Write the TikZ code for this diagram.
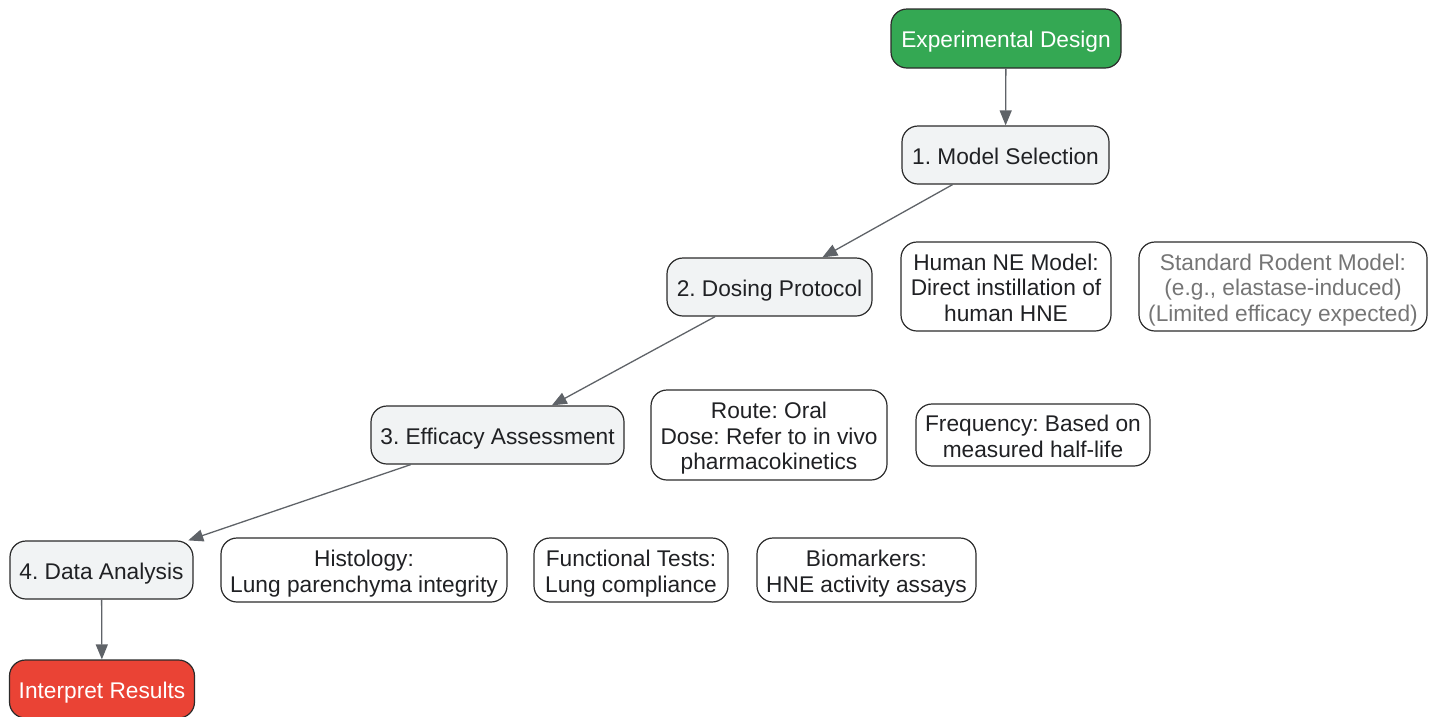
\documentclass[tikz,border=0pt]{standalone}
\usepackage{fontspec}
\setmainfont{Liberation Sans}
\usetikzlibrary{arrows.meta}
\definecolor{grn}{HTML}{34A853}
\definecolor{rd}{HTML}{EA4335}
\definecolor{lg}{HTML}{F1F3F4}
\definecolor{bd}{HTML}{2B2B2B}
\definecolor{ar}{HTML}{5F6368}
\definecolor{gt}{HTML}{757575}
\definecolor{tx}{HTML}{202124}
\frenchspacing
\begin{document}
\begin{tikzpicture}[x=1pt,y=-1pt,
  box/.style={draw=bd, line width=1.2pt, rounded corners=16pt, align=center,
    inner sep=0pt, text=tx, font=\fontsize{22.7}{25.5}\selectfont\frenchspacing,
    text height=22.1pt, text depth=3.4pt},
  twolines/.style={text height=47.6pt},
  threelines/.style={text height=73.1pt},
  stepbox/.style={box, fill=lg},
  conn/.style={draw=ar, line width=1.3pt, -{Triangle[length=15pt,width=12pt]}}]
\useasboundingbox (0,0) rectangle (1436,716);
\node[box, fill=grn, text=white, minimum width=230pt, minimum height=59pt] (ed) at (1006,38.5) {Experimental Design};
\node[stepbox, minimum width=207pt, minimum height=58pt] (ms) at (1005.5,155) {1. Model Selection};
\node[stepbox, minimum width=205pt, minimum height=58pt] (dp) at (769.5,287) {2. Dosing Protocol};
\node[box, threelines, minimum width=210pt, minimum height=89pt] (hne) at (1006,286.5) {Human NE Model:\\Direct instillation of\\human HNE};
\node[box, threelines, text=gt, minimum width=288pt, minimum height=89pt] (rod) at (1283,286.5) {Standard Rodent Model:\\(e.g., elastase-induced)\\(Limited efficacy expected)};
\node[stepbox, minimum width=253pt, minimum height=58pt] (ea) at (497.5,435) {3. Efficacy Assessment};
\node[box, threelines, minimum width=236pt, minimum height=90pt] (rt) at (769,435) {Route: Oral\\Dose: Refer to in vivo\\pharmacokinetics};
\node[box, twolines, minimum width=234pt, minimum height=62pt] (fq) at (1033,435) {Frequency: Based on\\measured half-life};
\node[stepbox, minimum width=183pt, minimum height=58pt] (da) at (101.5,570) {4. Data Analysis};
\node[box, twolines, minimum width=286pt, minimum height=64pt] (hi) at (364,570) {Histology:\\Lung parenchyma integrity};
\node[box, twolines, minimum width=194pt, minimum height=64pt] (ft) at (631,570) {Functional Tests:\\Lung compliance};
\node[box, twolines, minimum width=219pt, minimum height=64pt] (bm) at (866.5,570) {Biomarkers:\\HNE activity assays};
\node[box, fill=rd, text=white, minimum width=185pt, minimum height=58pt] (ir) at (102,689) {Interpret Results};
\draw[conn] (ed) -- (ms);
\draw[conn] (ms) -- (dp);
\draw[conn] (dp) -- (ea);
\draw[conn] (ea) -- (da);
\draw[conn] (da) -- (ir);
\end{tikzpicture}
\end{document}
